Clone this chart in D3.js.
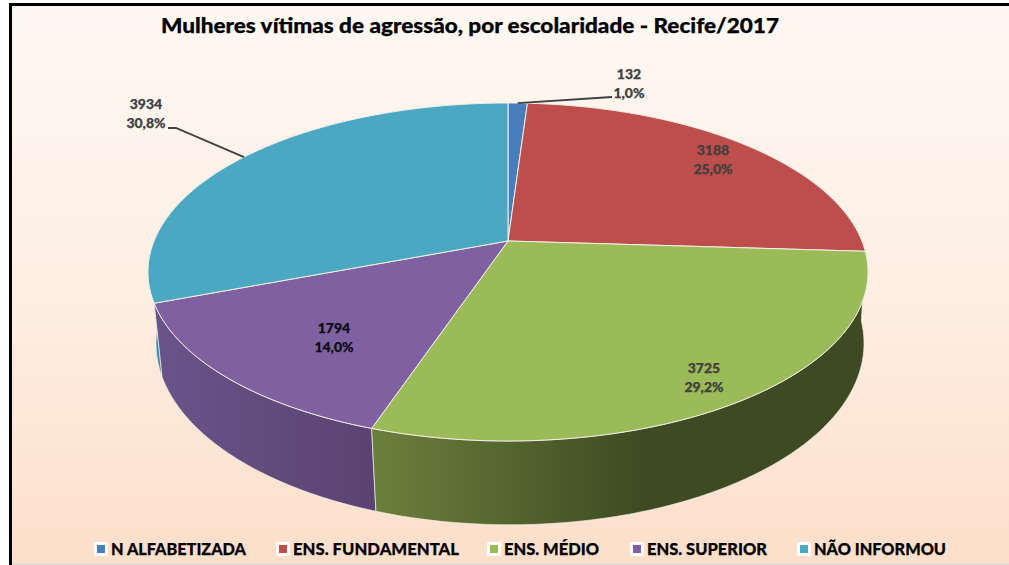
<!DOCTYPE html>
<html>
<head>
<meta charset="utf-8">
<script src="https://cdnjs.cloudflare.com/ajax/libs/d3/7.8.5/d3.min.js"></script>
<style>
  html, body { margin: 0; padding: 0; background: #fff; }
  svg { display: block; font-family: Lato, "Open Sans", sans-serif; font-weight: 900; }
  text { stroke: currentColor; stroke-width: 0.25px; }
</style>
</head>
<body>
<div id="chart"></div>
<script>
// data
var categories = ["N ALFABETIZADA", "ENS. FUNDAMENTAL", "ENS. MÉDIO", "ENS. SUPERIOR", "NÃO INFORMOU"];
var values = [132, 3188, 3725, 1794, 3934];
var percentLabels = ["1,0%", "25,0%", "29,2%", "14,0%", "30,8%"];

var topColors = ["#4a7ebb", "#bd4e4b", "#9bbb59", "#7f60a0", "#4aa8c3"];
var sideLeft = ["#3a6496", "#8e3a38", "#6b7f3c", "#6a5388", "#3a8da6"];
var sideRight = ["#2f5178", "#6e2c2a", "#3e4a22", "#5a4272", "#3f9cb6"];

// label anchors, not data
var labelPos = [[629, 79], [713, 155], [704, 373], [334, 333], [146, 109]];
var labelColor = ["#404040", "#404040", "#404040", "#0d0d0d", "#404040"];

var svgWidth = 1009;
var svgHeight = 565;

var svg = d3
  .select("#chart")
  .append("svg")
  .attr("width", svgWidth)
  .attr("height", svgHeight);

var defs = svg.append("defs");

var bg = defs
  .append("linearGradient")
  .attr("id", "bg")
  .attr("x1", 0)
  .attr("y1", 0)
  .attr("x2", 0)
  .attr("y2", 1);
bg.append("stop").attr("offset", "0%").attr("stop-color", "#fff8f2");
bg.append("stop").attr("offset", "50%").attr("stop-color", "#feefe4");
bg.append("stop").attr("offset", "100%").attr("stop-color", "#fddfca");

// chart area and frame
svg
  .append("rect")
  .attr("x", 10)
  .attr("y", 5)
  .attr("width", svgWidth - 10)
  .attr("height", 558)
  .attr("fill", "url(#bg)");
svg
  .append("path")
  .attr("d", "M10.5,565V4.5H1009")
  .attr("fill", "none")
  .attr("stroke", "#000")
  .attr("stroke-width", 3);
svg
  .append("line")
  .attr("x1", 12)
  .attr("x2", svgWidth)
  .attr("y1", 564)
  .attr("y2", 564)
  .attr("stroke", "#c9b4a4")
  .attr("stroke-width", 1);

svg
  .append("text")
  .attr("x", 470)
  .attr("y", 33)
  .attr("text-anchor", "middle")
  .attr("font-size", 20)
  .attr("textLength", 618)
  .attr("lengthAdjust", "spacingAndGlyphs")
  .attr("fill", "#000")
  .style("color", "#000")
  .text("Mulheres vítimas de agressão, por escolaridade - Recife/2017");

// pie slices, first one starts at 12 o'clock and goes clockwise
var pie = d3.pie().sort(null);
var arcs = pie(values);

// the disc is seen in perspective, so the centre sits above the ellipse centre
var k = 0.1834;
function project(angle, r, disc) {
  var u = r * Math.sin(angle);
  var v = -r * Math.cos(angle);
  var den = 1 - k * v;
  return [disc.cx + (disc.a * u) / den, disc.cy + (disc.b * v) / den];
}
var topDisc = { cx: 508, cy: 241, a: 353.9, b: 163.3 };
var bottomDisc = { cx: 510, cy: 310, a: 348, b: 175.4 };

function arcPoints(a0, a1, disc) {
  var n = Math.max(2, Math.ceil((a1 - a0) / 0.01));
  return d3.range(n + 1).map(function (i) {
    return project(a0 + ((a1 - a0) * i) / n, 1, disc);
  });
}

var line = d3.line();

// side gradients
arcs.forEach(function (d, i) {
  var pts = arcPoints(d.startAngle, d.endAngle, bottomDisc);
  var xs = d3.extent(pts, function (p) { return p[0]; });
  var grad = defs
    .append("linearGradient")
    .attr("id", "side" + i)
    .attr("gradientUnits", "userSpaceOnUse")
    .attr("x1", xs[0])
    .attr("y1", 0)
    .attr("x2", i === 2 ? xs[0] + (xs[1] - xs[0]) * 0.55 : xs[1])
    .attr("y2", 0);
  grad.append("stop").attr("offset", "0%").attr("stop-color", sideLeft[i]);
  grad.append("stop").attr("offset", "100%").attr("stop-color", sideRight[i]);
});

// walls: farthest first so the near ones cover them
var order = d3.range(arcs.length).sort(function (a, b) {
  var ma = (arcs[a].startAngle + arcs[a].endAngle) / 2;
  var mb = (arcs[b].startAngle + arcs[b].endAngle) / 2;
  return Math.cos(mb) - Math.cos(ma);
});

svg
  .append("g")
  .selectAll("path")
  .data(order)
  .enter()
  .append("path")
  .attr("d", function (i) {
    var d = arcs[i];
    var upper = arcPoints(d.startAngle, d.endAngle, topDisc);
    var lower = arcPoints(d.startAngle, d.endAngle, bottomDisc).reverse();
    return line(upper.concat(lower)) + "Z";
  })
  .attr("fill", function (i) { return "url(#side" + i + ")"; })
  .attr("stroke", "#f4efe8")
  .attr("stroke-width", 0.7)
  .attr("stroke-linejoin", "round");

// top face
svg
  .append("g")
  .selectAll("path")
  .data(arcs)
  .enter()
  .append("path")
  .attr("d", function (d) {
    var centre = [topDisc.cx, topDisc.cy];
    return line([centre].concat(arcPoints(d.startAngle, d.endAngle, topDisc))) + "Z";
  })
  .attr("fill", function (d, i) { return topColors[i]; })
  .attr("stroke", "#f4efe8")
  .attr("stroke-width", 1)
  .attr("stroke-linejoin", "round");

// leader lines for the two labels outside the pie
function midAngle(d) {
  return (d.startAngle + d.endAngle) / 2;
}
var leaders = [
  { slice: 0, knee: [612, 97], end: [612, 97] },
  { slice: 4, knee: [176, 128], end: [168, 128] },
];
svg
  .append("g")
  .selectAll("path")
  .data(leaders)
  .enter()
  .append("path")
  .attr("d", function (l) {
    var start = project(midAngle(arcs[l.slice]), 1, topDisc);
    return line([start, l.knee, l.end]);
  })
  .attr("fill", "none")
  .attr("stroke", "#404040")
  .attr("stroke-width", 1.8);

// value + percent labels
var labels = svg
  .append("g")
  .attr("text-anchor", "middle")
  .attr("font-size", 14)
  .selectAll("text")
  .data(values)
  .enter()
  .append("text")
  .attr("fill", function (d, i) { return labelColor[i]; })
  .style("color", function (d, i) { return labelColor[i]; });
labels
  .append("tspan")
  .attr("x", function (d, i) { return labelPos[i][0]; })
  .attr("y", function (d, i) { return labelPos[i][1]; })
  .text(function (d) { return d; });
labels
  .append("tspan")
  .attr("x", function (d, i) { return labelPos[i][0]; })
  .attr("y", function (d, i) { return labelPos[i][1] + 19; })
  .text(function (d, i) { return percentLabels[i]; });

// legend
var legendX = [94, 276, 487, 630, 797];
var legendTextW = [135, 166, 95, 120, 132];
var legendY = 549;
var legend = svg
  .append("g")
  .selectAll("g")
  .data(categories)
  .enter()
  .append("g")
  .attr("transform", function (d, i) { return "translate(" + legendX[i] + "," + legendY + ")"; });
legend
  .append("rect")
  .attr("x", 0)
  .attr("y", -7)
  .attr("width", 14)
  .attr("height", 14)
  .attr("rx", 2)
  .attr("fill", "#fff");
legend
  .append("rect")
  .attr("x", 3)
  .attr("y", -4)
  .attr("width", 8)
  .attr("height", 8)
  .attr("fill", function (d, i) { return topColors[i]; });
legend
  .append("text")
  .attr("x", 17)
  .attr("y", 6)
  .attr("font-size", 17)
  .attr("textLength", function (d, i) { return legendTextW[i]; })
  .attr("lengthAdjust", "spacingAndGlyphs")
  .attr("fill", "#000")
  .style("color", "#000")
  .text(function (d) { return d; });
</script>
</body>
</html>
